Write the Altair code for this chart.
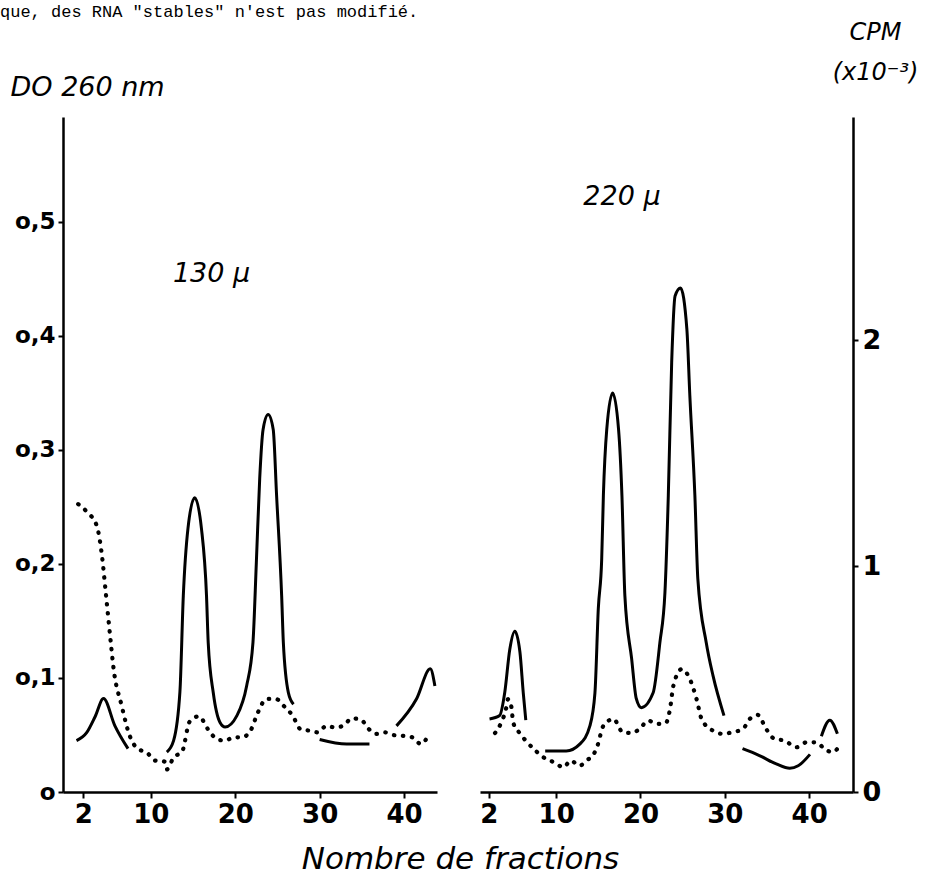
import altair as alt
import pandas as pd

TOP_TEXT = 'que, des RNA "stables" n\'est pas modifié.'

# ---- left panel (130 µ) ----
L_DO_X = [1.2, 2.4, 3.4, 4.4, 5.75, 7.3,
          11.9, 12.7, 13.45, 13.85, 14.4, 15.2, 16.0, 16.6, 16.8, 17.4, 18.2, 18.8, 20.2, 21.35, 22.1, 22.5,
          22.9, 23.3, 23.9, 24.5, 24.9, 25.5, 25.7, 26.3, 26.9,
          30.0, 33.2, 35.9,
          39.1, 41.5, 43.1, 43.65]
L_DO_Y = [0.045, 0.052, 0.066, 0.082, 0.058, 0.038,
          0.035, 0.045, 0.088, 0.172, 0.231, 0.258, 0.231, 0.172, 0.131, 0.087, 0.061, 0.057, 0.067, 0.093, 0.131, 0.201,
          0.275, 0.318, 0.331, 0.318, 0.26, 0.172, 0.131, 0.087, 0.077,
          0.046, 0.042, 0.042,
          0.058, 0.082, 0.108, 0.093]
L_DO_SEG = [1] * 6 + [2] * 25 + [3] * 3 + [4] * 4

L_CPM_X = [1.4, 2.5, 3.6, 4.2, 4.7, 5.3, 5.55, 6.55, 7.5, 8.5, 9.5, 10.5, 11.6, 11.9, 12.7, 13.7, 14.6, 15.7,
           16.8, 17.8, 18.8, 19.8, 20.8, 21.8, 22.7, 23.7, 24.8, 25.9, 26.8, 27.7, 28.85, 29.8, 30.8, 31.8,
           32.8, 33.8, 34.9, 35.8, 36.7, 37.7, 38.7, 39.7, 41.0, 42.0, 43.0]
L_CPM_Y = [1.274, 1.237, 1.178, 1.05, 0.869, 0.647, 0.559, 0.382, 0.249, 0.190, 0.176, 0.139, 0.135, 0.10, 0.153,
           0.178, 0.311, 0.335, 0.276, 0.235, 0.227, 0.242, 0.242, 0.271, 0.353, 0.412, 0.412, 0.375, 0.338,
           0.279, 0.271, 0.264, 0.293, 0.286, 0.293, 0.326, 0.320, 0.279, 0.257, 0.264, 0.252, 0.249, 0.242,
           0.212, 0.261]

# ---- right panel (220 µ) ----
R_DO_X = [2.1, 3.3, 3.9, 4.5, 5.1, 5.7, 6.1, 6.4,
          8.7, 11.2, 12.8, 14.0, 14.6, 15.0, 15.4, 15.6, 16.0, 16.7, 17.4, 17.8, 18.15, 18.95, 19.5, 20.1, 21.5,
          22.3, 22.9, 23.3, 23.7, 24.1, 24.75, 25.5, 25.85, 26.45, 26.8, 27.8, 28.6, 29.9,
          32.1, 34.1, 36.1, 37.7, 38.7, 40.1,
          41.45, 42.45, 43.35]
R_DO_Y = [0.064, 0.067, 0.087, 0.125, 0.141, 0.123, 0.087, 0.063,
          0.036, 0.036, 0.042, 0.058, 0.087, 0.161, 0.204, 0.26, 0.318, 0.350, 0.318, 0.26, 0.172, 0.117, 0.082,
          0.074, 0.087, 0.131, 0.175, 0.26, 0.377, 0.435, 0.442, 0.406, 0.348, 0.26, 0.187, 0.131, 0.102, 0.067,
          0.038, 0.032, 0.0246, 0.0208, 0.023, 0.033,
          0.049, 0.063, 0.051]
R_DO_SEG = [1] * 8 + [2] * 30 + [3] * 6 + [4] * 3

R_CPM_X = [2.75, 3.5, 4.05, 4.3, 4.7, 4.9, 5.6, 6.5, 7.7, 8.8, 9.8, 10.85, 11.75, 12.75, 13.7, 14.4, 14.9, 15.6,
           16.8, 17.9, 18.95, 19.9, 20.9, 22.0, 23.0, 23.5, 23.9, 24.9, 25.85, 26.65, 27.25, 28.6, 29.8, 30.8,
           32.15, 32.95, 33.9, 34.9, 35.9, 37.1, 38.5, 39.7, 40.85, 41.85, 42.75, 43.75]
R_CPM_Y = [0.261, 0.308, 0.367, 0.411, 0.375, 0.308, 0.264, 0.223, 0.178, 0.146, 0.131, 0.109, 0.139, 0.116,
           0.142, 0.164, 0.205, 0.293, 0.323, 0.264, 0.261, 0.279, 0.316, 0.301, 0.305, 0.367, 0.470, 0.544,
           0.500, 0.411, 0.323, 0.271, 0.257, 0.264, 0.279, 0.323, 0.341, 0.279, 0.235, 0.227, 0.198, 0.220,
           0.220, 0.190, 0.176, 0.212]

LABELS_L = {"t": ["130 µ"], "x": [17.2], "y": [0.454]}
LABELS_R = {"t": ["220 µ"], "x": [17.8], "y": [0.522]}

DO_TICKS = [0, 0.1, 0.2, 0.3, 0.4, 0.5]
CPM_TICKS = [0, 1, 2]
X_TICKS = [2, 10, 20, 30, 40]

DO_MAX = 0.592
CPM_MAX = 2.987
FONT = "DejaVu Sans"

l_do = pd.DataFrame({"x": L_DO_X, "y": L_DO_Y, "seg": L_DO_SEG})
l_cpm = pd.DataFrame({"x": L_CPM_X, "cpm": L_CPM_Y})
r_do = pd.DataFrame({"x": R_DO_X, "y": R_DO_Y, "seg": R_DO_SEG})
r_cpm = pd.DataFrame({"x": R_CPM_X, "cpm": R_CPM_Y})


def xenc(domain, title=None):
    kw = dict(values=X_TICKS, labelFont=FONT, labelFontSize=26, labelFontWeight="bold",
              domainWidth=2.5, tickWidth=2, tickSize=6, labelPadding=3, grid=False,
              labelFlush=False)
    if title:
        kw.update(title=title, titleFont=FONT, titleFontSize=31, titleFontStyle="italic",
                  titleFontWeight="normal", titleX=397, titleY=67, titleAlign="center",
                  titleBaseline="middle", titleAnchor="start")
    else:
        kw.update(title=None)
    return alt.X("x:Q", scale=alt.Scale(domain=domain, nice=False, zero=False), axis=alt.Axis(**kw))


solid_style = dict(color="black", strokeWidth=3, interpolate="monotone")
dot_style = dict(color="black", strokeWidth=4.2, strokeDash=[0.5, 8.5], strokeCap="round",
                 interpolate="monotone")

do_scale = alt.Scale(domain=[0, DO_MAX], nice=False, zero=True)
cpm_scale = alt.Scale(domain=[0, CPM_MAX], nice=False, zero=True)

L_DOM = [-0.4, 43.9]
R_DOM = [0.97, 45.2]
XT = "Nombre de fractions"

left_solid = alt.Chart(l_do).mark_line(**solid_style).encode(
    x=xenc(L_DOM, XT),
    y=alt.Y("y:Q", scale=do_scale, axis=alt.Axis(
        values=DO_TICKS, labelExpr="datum.value == 0 ? 'o' : 'o,' + round(datum.value * 10)",
        labelFont=FONT, labelFontSize=23, labelFontWeight="bold", domainWidth=2.5, tickWidth=2,
        tickSize=5, labelPadding=3, grid=False,
        title="DO 260 nm", titleFont=FONT, titleFontSize=27, titleFontStyle="italic",
        titleFontWeight="normal", titleAngle=0, titleX=-53, titleY=-30, titleAlign="left",
        titleBaseline="middle")),
    detail="seg:N",
)
left_dot = alt.Chart(l_cpm).mark_line(**dot_style).encode(
    x=xenc(L_DOM, XT), y=alt.Y("cpm:Q", scale=cpm_scale, axis=None))
left_lab = alt.Chart(pd.DataFrame(LABELS_L)).mark_text(
    font=FONT, fontSize=27, fontStyle="italic", color="black").encode(
    x=xenc(L_DOM, XT), y=alt.Y("y:Q", scale=do_scale, axis=None), text="t:N")
left = alt.layer(left_solid, left_dot, left_lab).resolve_scale(y="independent").properties(
    width=374, height=675)

right_solid = alt.Chart(r_do).mark_line(**solid_style).encode(
    x=xenc(R_DOM), y=alt.Y("y:Q", scale=do_scale, axis=None), detail="seg:N")
right_dot = alt.Chart(r_cpm).mark_line(**dot_style).encode(
    x=xenc(R_DOM),
    y=alt.Y("cpm:Q", scale=cpm_scale, axis=alt.Axis(
        orient="right", values=CPM_TICKS, labelFont=FONT, labelFontSize=27, labelFontWeight="bold",
        domainWidth=2.5, tickWidth=2, tickSize=5, labelPadding=4, grid=False,
        title=["CPM", "(x10⁻³)"], titleFont=FONT, titleFontSize=24, titleFontStyle="italic",
        titleFontWeight="normal", titleAngle=0, titleX=22, titleY=-97, titleAlign="center",
        titleBaseline="top", titleLineHeight=40)))
right_lab = alt.Chart(pd.DataFrame(LABELS_R)).mark_text(
    font=FONT, fontSize=27, fontStyle="italic", color="black").encode(
    x=xenc(R_DOM), y=alt.Y("y:Q", scale=do_scale, axis=None), text="t:N")
right = alt.layer(right_solid, right_dot, right_lab).resolve_scale(y="independent").properties(
    width=373, height=675)

chart = alt.hconcat(left, right, spacing=43, bounds="flush").properties(
    title=alt.TitleParams(TOP_TEXT, anchor="start", font="Liberation Mono", fontSize=17,
                          fontWeight="normal", color="black", dx=-10, offset=-1),
    padding={"left": 0, "top": 3, "right": 0, "bottom": 0},
).configure_view(stroke=None).configure_axis(
    labelColor="black", domainColor="black", tickColor="black", titleColor="black")

chart.save("out.html", embed_options={"renderer": "svg", "actions": False})
